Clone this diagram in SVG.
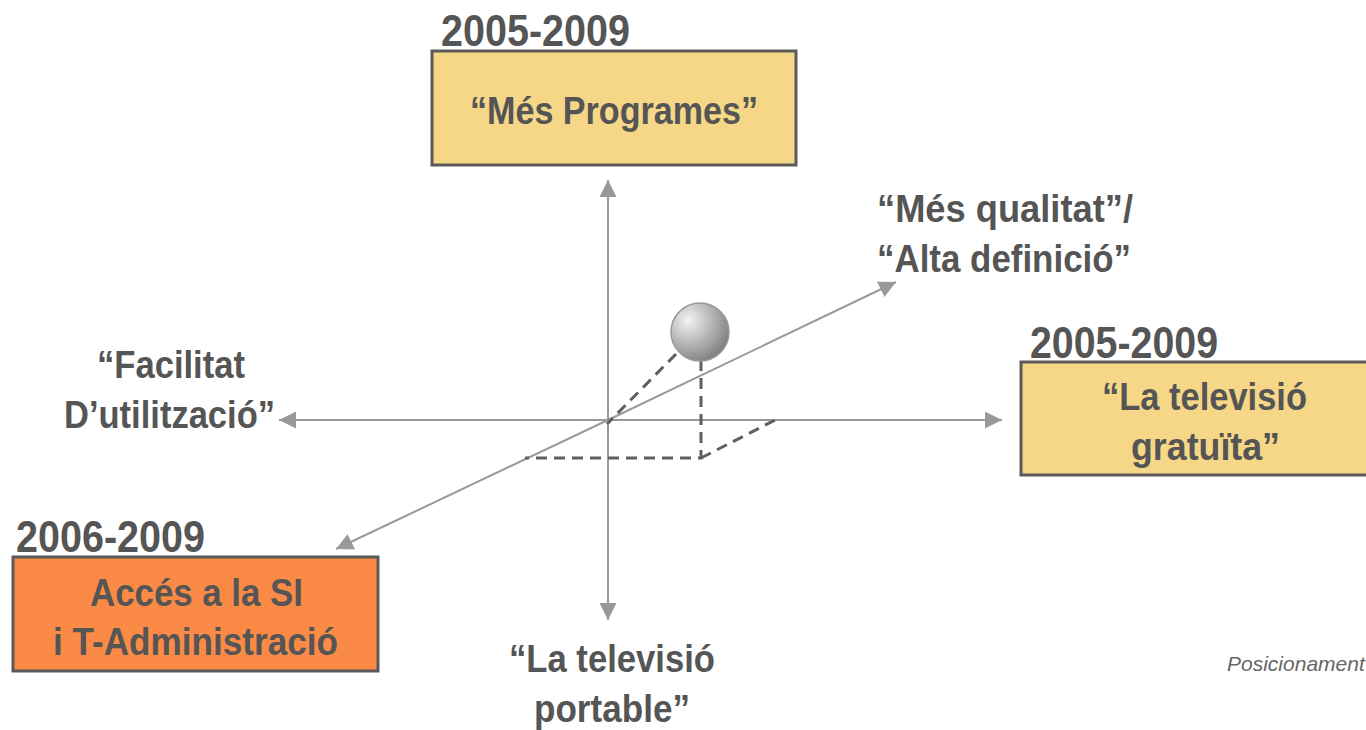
<svg xmlns="http://www.w3.org/2000/svg" width="1366" height="730" viewBox="0 0 1366 730">
<style>
.t{font-family:"Liberation Sans Narrow","Liberation Sans",Arial,sans-serif;font-weight:bold;fill:#555555}
.yr{font-size:45px}
.lb{font-size:39px}
.box{stroke:#5a5a5a;stroke-width:3}
.ax{stroke:#999999;stroke-width:2;fill:none}
.ds{stroke:#5f5f5f;stroke-width:3;stroke-dasharray:11 7;fill:none}
</style>
<defs>
<marker id="ah" viewBox="0 0 10 10" refX="10" refY="5" markerWidth="17" markerHeight="17" markerUnits="userSpaceOnUse" orient="auto">
<path d="M0,0 L10,5 L0,10 z" fill="#999999"/>
</marker>
<radialGradient id="sph" cx="0.3" cy="0.3" r="0.8">
<stop offset="0" stop-color="#f4f4f4"/>
<stop offset="0.55" stop-color="#b0b0b0"/>
<stop offset="1" stop-color="#7a7a7a"/>
</radialGradient>
</defs>
<rect width="1366" height="730" fill="#ffffff"/>
<g id="connectors">
<line class="ax" x1="608" y1="620" x2="608" y2="180" marker-end="url(#ah)"/>
<line class="ax" x1="608" y1="420" x2="608" y2="620" marker-end="url(#ah)"/>
<line class="ax" x1="608" y1="420" x2="1002" y2="420" marker-end="url(#ah)"/>
<line class="ax" x1="608" y1="420" x2="279" y2="420" marker-end="url(#ah)"/>
<line class="ax" x1="608" y1="420" x2="896" y2="282" marker-end="url(#ah)"/>
<line class="ax" x1="608" y1="420" x2="336" y2="549" marker-end="url(#ah)"/>
<path class="ds" d="M676,354 L607,424"/>
<path class="ds" d="M701,360 L701,458 L525,458"/>
<path class="ds" d="M701,458 L777,419"/>
</g>
<g id="sphere">
<circle cx="700" cy="332" r="29" fill="url(#sph)" stroke="#999999" stroke-width="1.5"/>
</g>
<g id="node-programes">
<text class="t yr" x="441" y="46" textLength="189" lengthAdjust="spacingAndGlyphs">2005-2009</text>
<rect class="box" x="432" y="51" width="364" height="114" fill="#F5D787"/>
<text class="t lb" x="470" y="124" textLength="288" lengthAdjust="spacingAndGlyphs">“Més Programes”</text>
</g>
<g id="node-gratuita">
<text class="t yr" x="1030" y="358" textLength="188" lengthAdjust="spacingAndGlyphs">2005-2009</text>
<rect class="box" x="1021" y="362" width="360" height="113" fill="#F5D787"/>
<text class="t lb" x="1102" y="410" textLength="205" lengthAdjust="spacingAndGlyphs">“La televisió</text>
<text class="t lb" x="1131" y="460" textLength="149" lengthAdjust="spacingAndGlyphs">gratuïta”</text>
</g>
<g id="node-acces">
<text class="t yr" x="16" y="552" textLength="189" lengthAdjust="spacingAndGlyphs">2006-2009</text>
<rect class="box" x="13" y="557" width="365" height="114" fill="#FA8A45"/>
<text class="t lb" x="90" y="606" textLength="213" lengthAdjust="spacingAndGlyphs">Accés a la SI</text>
<text class="t lb" x="53" y="655" textLength="285" lengthAdjust="spacingAndGlyphs">i T-Administració</text>
</g>
<g id="label-qualitat">
<text class="t lb" x="877" y="222" textLength="256" lengthAdjust="spacingAndGlyphs">“Més qualitat”/</text>
<text class="t lb" x="877" y="272" textLength="254" lengthAdjust="spacingAndGlyphs">“Alta definició”</text>
</g>
<g id="label-facilitat">
<text class="t lb" x="97" y="378" textLength="148" lengthAdjust="spacingAndGlyphs">“Facilitat</text>
<text class="t lb" x="64" y="428" textLength="211" lengthAdjust="spacingAndGlyphs">D’utilització”</text>
</g>
<g id="label-portable">
<text class="t lb" x="509" y="672" textLength="206" lengthAdjust="spacingAndGlyphs">“La televisió</text>
<text class="t lb" x="534" y="722" textLength="156" lengthAdjust="spacingAndGlyphs">portable”</text>
</g>
<text x="1227" y="671" font-family="Liberation Sans, Arial, sans-serif" font-style="italic" font-size="21" fill="#666666">Posicionament</text>
</svg>
